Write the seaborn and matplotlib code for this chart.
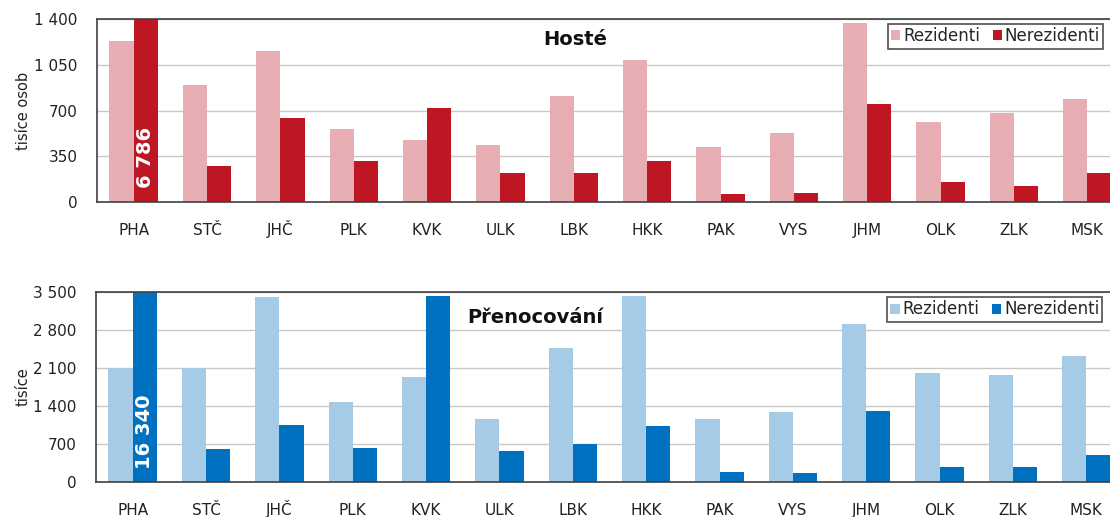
import matplotlib
matplotlib.use('Agg')
import matplotlib.pyplot as plt
import seaborn as sns
import pandas as pd
from matplotlib.ticker import FuncFormatter

# Kraje
kraje = ['PHA', 'STČ', 'JHČ', 'PLK', 'KVK', 'ULK', 'LBK', 'HKK', 'PAK', 'VYS', 'JHM', 'OLK', 'ZLK', 'MSK']

# Hosté (tisíce osob)
hoste_rez = [1234, 897, 1157, 559, 477, 437, 815, 1088, 424, 529, 1374, 613, 680, 787]
hoste_nerez = [6786, 276, 641, 314, 723, 220, 220, 314, 59, 71, 749, 153, 125, 220]

# Přenocování (tisíce)
pren_rez = [2095, 2095, 3408, 1479, 1935, 1153, 2465, 3433, 1153, 1282, 2915, 2003, 1973, 2324]
pren_nerez = [16340, 598, 1054, 623, 3433, 567, 690, 1023, 172, 166, 1313, 271, 271, 499]

skupiny = ['Rezidenti', 'Nerezidenti']


def long_df(rez, nerez):
    return pd.DataFrame({
        'kraj': kraje * 2,
        'skupina': [skupiny[0]] * len(kraje) + [skupiny[1]] * len(kraje),
        'hodnota': rez + nerez,
    })


sns.set_theme(style='white')
plt.rcParams['font.family'] = ['DejaVu Sans']

fig = plt.figure(figsize=(11.1, 5.17), dpi=100)
ax1 = fig.add_axes([97 / 1110, 315 / 517, 1027 / 1110, 182.7 / 517])
ax2 = fig.add_axes([96 / 1110, 35.3 / 517, 1027 / 1110, 189.3 / 517])

space_fmt = FuncFormatter(lambda v, p: f'{int(v):,}'.replace(',', ' '))


def panel(ax, df, colors, ymax, step, ylabel, title, title_x, title_y, big_label, big_y):
    sns.barplot(data=df, x='kraj', y='hodnota', hue='skupina', palette=colors,
                width=0.66, ax=ax, saturation=1, edgecolor='none')
    ax.set_ylim(0, ymax)
    ax.set_xlim(-0.5, len(kraje) - 0.5)
    ax.set_yticks(range(0, ymax + 1, step))
    ax.yaxis.set_major_formatter(space_fmt)
    ax.grid(axis='y', color='#c8c8c8', linewidth=1)
    ax.set_axisbelow(True)
    for s in ['left', 'bottom', 'top', 'right']:
        ax.spines[s].set_color('#404040')
        ax.spines[s].set_linewidth(1.2)
    ax.tick_params(axis='both', length=0, labelsize=11, colors='#222222')
    ax.tick_params(axis='x', pad=24)
    ax.tick_params(axis='y', pad=14)
    for lab in ax.get_xticklabels():
        lab.set_va('baseline')
    ax.set_xlabel('')
    ax.set_ylabel(ylabel, fontsize=10.5, color='#222222', labelpad=2)
    ax.text(title_x, title_y, title, transform=ax.transAxes, ha='center', va='center',
            fontsize=14, fontweight='bold', color='#111111')
    ax.text(0.165, big_y, big_label, rotation=90, ha='center', va='center',
            color='white', fontsize=14, fontweight='bold')
    leg = ax.legend(loc='upper left', bbox_to_anchor=((888 - 97) / 1027, 0.975), ncol=2,
                    frameon=True, fancybox=False, edgecolor='#222222', fontsize=12,
                    handlelength=0.55, handleheight=0.55, handletextpad=0.15,
                    columnspacing=0.8, borderpad=0.2, borderaxespad=0)
    leg.get_frame().set_linewidth(1.2)


panel(ax1, long_df(hoste_rez, hoste_nerez), ['#e6adb2', '#be1622'], 1400, 350,
      'tisíce osob', 'Hosté', 0.466, 0.89, '6 786', 340)
panel(ax2, long_df(pren_rez, pren_nerez), ['#a6cbe7', '#0070c0'], 3500, 700,
      'tisíce', 'Přenocování', 0.428, 0.865, '16 340', 920)

fig.savefig('out.png', dpi=100)
